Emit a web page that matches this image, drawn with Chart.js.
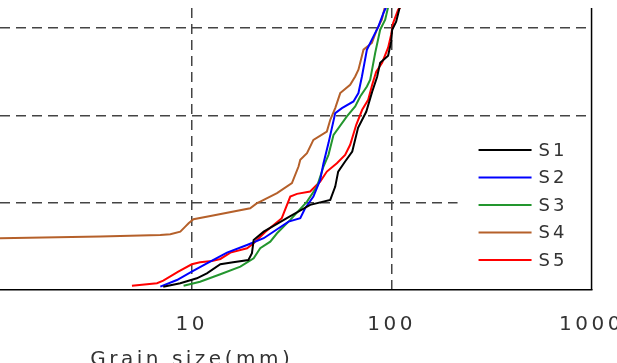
<!DOCTYPE html>
<html>
<head>
<meta charset="utf-8">
<script src="https://cdn.jsdelivr.net/npm/chart.js"></script>
<style>
  html, body { margin: 0; padding: 0; background: #fff; overflow: hidden; width: 617px; height: 363px; }
  #wrap { position: absolute; left: -218px; top: 0; width: 858px; height: 380px; }
</style>
</head>
<body>
<div id="wrap"><canvas id="chart" width="858" height="380"></canvas></div>
<script>
// grain size (mm) vs. percent finer
const seriesNames = ["S1", "S2", "S3", "S4", "S5"];
const seriesColors = ["#000000", "#0000ff", "#23962e", "#b5602a", "#ff0000"];

const s1Size = [7.20, 8.76, 10.6, 11.9, 13.9, 16.1, 19.2, 20.0, 20.4, 22.9, 29.9, 39.1, 49.3, 52.2, 54.0, 58.5, 63.5, 67.9, 74.6, 79.9, 84.6, 87.6, 96.0, 99.4, 100.6, 105.3, 109.0, 110.3];
const s1Finer = [0.76, 1.54, 2.68, 3.83, 5.89, 6.35, 6.88, 8.42, 11.47, 13.37, 16.44, 19.50, 20.64, 23.69, 27.13, 29.43, 31.72, 37.16, 40.83, 45.41, 48.85, 52.06, 53.67, 56.88, 59.63, 61.47, 64.22, 65.14];

const s2Size = [6.96, 8.43, 10.0, 11.9, 15.0, 18.9, 22.9, 27.2, 30.5, 34.9, 36.9, 40.6, 43.9, 45.6, 48.3, 52.2, 56.4, 64.4, 68.2, 71.0, 75.2, 81.1, 85.9, 91.0, 94.6];
const s2Finer = [0.76, 2.29, 4.20, 6.12, 8.56, 10.32, 11.86, 14.15, 15.67, 16.44, 18.74, 21.40, 25.23, 29.06, 33.65, 40.53, 41.67, 43.19, 45.11, 48.92, 55.05, 58.10, 60.39, 63.46, 65.14];

const s3Size = [9.10, 11.0, 13.9, 17.5, 20.4, 22.0, 24.7, 26.7, 31.1, 37.7, 42.3, 45.6, 48.3, 51.2, 59.7, 65.7, 69.6, 75.2, 78.1, 82.7, 87.6, 92.8, 96.4];
const s3Finer = [0.99, 1.90, 3.60, 5.34, 7.27, 9.56, 11.08, 13.0, 16.06, 20.25, 23.69, 28.28, 30.96, 35.55, 39.75, 42.04, 44.33, 46.63, 48.17, 54.29, 59.63, 61.93, 65.14];

const s4Size = [0.5, 1.10, 3.49, 6.96, 7.81, 8.76, 9.28, 9.64, 10.2, 12.4, 19.6, 21.2, 22.0, 26.7, 31.7, 34.2, 34.9, 37.7, 40.6, 47.4, 49.3, 52.2, 55.3, 62.0, 65.7, 68.2, 72.3, 79.6, 84.3, 89.3, 92.8];
const s4Finer = [11.47, 11.86, 12.27, 12.61, 12.78, 13.37, 14.52, 15.30, 16.22, 16.97, 18.74, 19.89, 20.25, 22.18, 24.47, 28.28, 29.82, 31.35, 34.40, 36.31, 38.99, 41.67, 45.11, 47.02, 48.92, 50.46, 55.05, 56.58, 59.63, 61.93, 65.14];

const s5Size = [5.02, 6.70, 7.20, 8.56, 10.0, 11.0, 12.6, 13.9, 15.6, 18.9, 20.4, 23.3, 28.2, 31.1, 33.6, 39.1, 43.9, 47.4, 53.2, 58.5, 62.0, 66.5, 71.2, 76.3, 79.9, 83.7, 89.6, 96.0, 99.4, 101.7, 107.8, 112.8];
const s5Finer = [0.99, 1.54, 2.13, 4.20, 5.89, 6.35, 6.65, 7.11, 8.56, 9.56, 10.71, 13.30, 16.44, 21.40, 22.02, 22.55, 24.84, 27.13, 29.06, 30.96, 33.26, 37.84, 41.28, 43.58, 47.02, 50.0, 52.06, 55.50, 58.49, 61.17, 64.22, 65.14];

const xTicks = [10, 100, 1000];
const xGridValues = [10, 100];
const yTicks = [0, 20, 40, 60];
const yMax = 64.6;
const xTitle = "Grain size(mm)";

const sizes = [s1Size, s2Size, s3Size, s4Size, s5Size];
const finer = [s1Finer, s2Finer, s3Finer, s4Finer, s5Finer];

const datasets = seriesNames.map((name, i) => ({
  label: name,
  data: sizes[i].map((x, j) => ({ x: x, y: finer[i][j] })),
  borderColor: seriesColors[i],
  backgroundColor: seriesColors[i],
  borderWidth: 2,
  pointRadius: 0,
  tension: 0,
  fill: false
}));

const textColor = "#333";
const dash = [10, 6];

// spaced-out lettering like the original figure
const spacing = {
  id: "spacing",
  beforeDraw(chart) {
    chart.ctx.letterSpacing = "3.5px";
  }
};

// right border + legend box in the lower right corner
const frame = {
  id: "frame",
  afterDatasetsDraw(chart) {
    const { ctx, chartArea } = chart;
    const r = chartArea.right;
    ctx.save();
    ctx.fillStyle = "#fff";
    ctx.fillRect(r - 134, 128, 131, chartArea.bottom - 130);

    ctx.beginPath();
    ctx.strokeStyle = "#000";
    ctx.lineWidth = 1.5;
    ctx.moveTo(r, chartArea.top);
    ctx.lineTo(r, chartArea.bottom);
    ctx.stroke();

    ctx.font = "18px 'DejaVu Sans'";
    ctx.letterSpacing = "3px";
    ctx.textBaseline = "middle";
    ctx.textAlign = "left";
    chart.data.datasets.forEach((ds, i) => {
      const y = 150 + i * 27.5;
      ctx.beginPath();
      ctx.strokeStyle = ds.borderColor;
      ctx.lineWidth = 2;
      ctx.moveTo(r - 113, y);
      ctx.lineTo(r - 60, y);
      ctx.stroke();
      ctx.fillStyle = textColor;
      ctx.fillText(ds.label, r - 53, y + 1);
    });
    ctx.restore();
  }
};

new Chart(document.getElementById("chart"), {
  type: "line",
  data: { datasets: datasets },
  plugins: [spacing, frame],
  options: {
    responsive: false,
    animation: false,
    devicePixelRatio: 1,
    layout: { padding: { left: 10, right: 40, top: 8, bottom: 0 } },
    plugins: { legend: { display: false }, tooltip: { enabled: false } },
    scales: {
      x: {
        type: "logarithmic",
        min: 0.1,
        max: 1000,
        afterBuildTicks: s => { s.ticks = xTicks.map(v => ({ value: v })); },
        afterFit: s => { s.height = 90; },
        ticks: {
          autoSkip: false,
          maxRotation: 0,
          padding: 23,
          color: textColor,
          font: { family: "'DejaVu Sans'", size: 20 },
          callback: v => String(v)
        },
        grid: {
          drawTicks: false,
          lineWidth: 1.5,
          color: c => (c.tick && xGridValues.includes(c.tick.value)) ? "#444" : "transparent"
        },
        border: { display: true, color: "#000", width: 1.5, dash: dash },
        title: {
          display: true,
          text: xTitle,
          color: textColor,
          font: { family: "'DejaVu Sans'", size: 20 },
          padding: { top: 0, bottom: 8 }
        }
      },
      y: {
        min: 0,
        max: yMax,
        afterBuildTicks: s => { s.ticks = yTicks.map(v => ({ value: v })); },
        afterFit: s => { s.width = 0; },
        ticks: { display: false },
        grid: {
          drawTicks: false,
          lineWidth: 1.5,
          color: c => (c.tick && c.tick.value > 0) ? "#444" : "transparent"
        },
        border: { display: false, dash: dash }
      }
    }
  }
});
</script>
</body>
</html>
